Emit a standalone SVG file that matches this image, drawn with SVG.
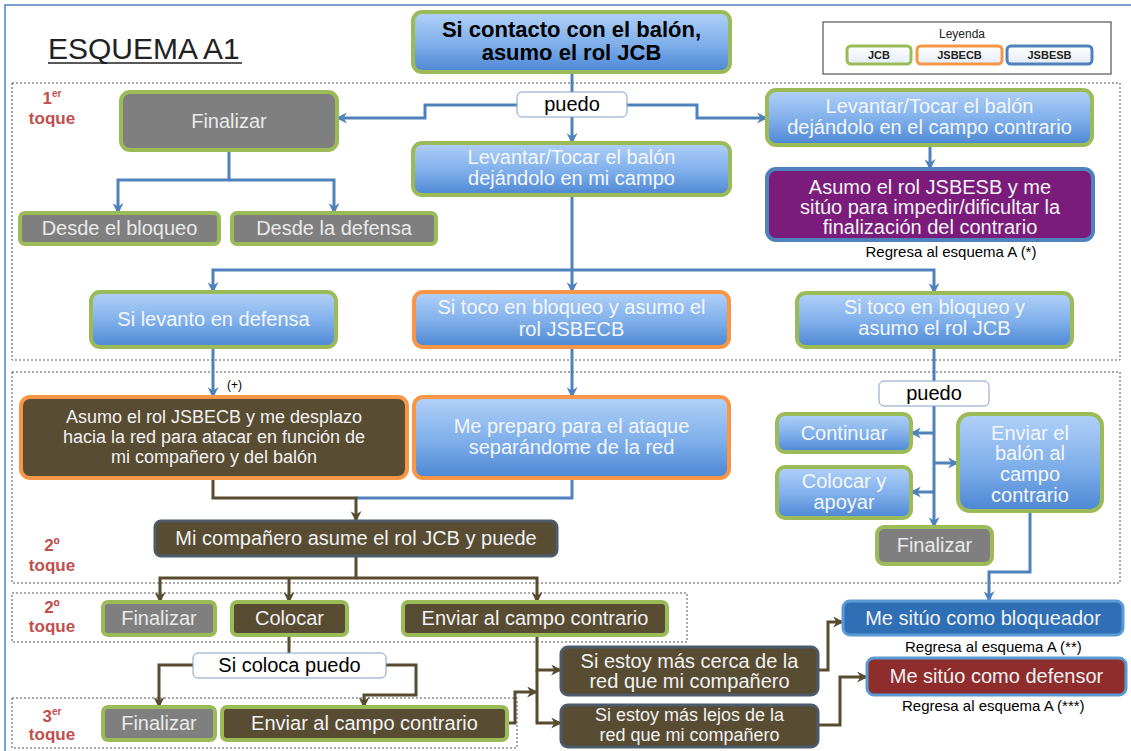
<svg xmlns="http://www.w3.org/2000/svg" width="1131" height="751" viewBox="0 0 1131 751">
<defs>
<linearGradient id="gBlue" x1="0" y1="0" x2="0" y2="1">
<stop offset="0" stop-color="#b2d1f8"/>
<stop offset="0.55" stop-color="#7eaeea"/>
<stop offset="1" stop-color="#4c86d3"/>
</linearGradient>
<linearGradient id="gLeg" x1="0" y1="0" x2="0" y2="1">
<stop offset="0" stop-color="#ffffff"/>
<stop offset="1" stop-color="#e4ecf6"/>
</linearGradient>
<marker id="aB" viewBox="0 0 10 10" refX="9" refY="5" markerWidth="11" markerHeight="11" markerUnits="userSpaceOnUse" orient="auto">
<path d="M0,0 L10,5 L0,10 L3,5 z" fill="#4f81bd"/>
</marker>
<marker id="aM" viewBox="0 0 10 10" refX="9" refY="5" markerWidth="11" markerHeight="11" markerUnits="userSpaceOnUse" orient="auto">
<path d="M0,0 L10,5 L0,10 L3,5 z" fill="#584c30"/>
</marker>
</defs>
<style>
text{font-family:"Liberation Sans",Arial,sans-serif}
.sec{fill:none;stroke:#555;stroke-width:1;stroke-dasharray:2 2}
.blue{fill:url(#gBlue);stroke:#9bbb59;stroke-width:4}
.blueO{fill:url(#gBlue);stroke:#f79646;stroke-width:4}
.gray{fill:#7f7f7f;stroke:#9bbb59;stroke-width:4}
.brownG{fill:#584c32;stroke:#9bbb59;stroke-width:4}
.brownO{fill:#584c32;stroke:#f79646;stroke-width:4}
.brownS{fill:#584c32;stroke:#4b5b6b;stroke-width:3}
.pill{fill:#fff;stroke:#7f9fc8;stroke-width:1}
.nt{font-size:20px;fill:#f3f7fc;text-anchor:middle}
.gt{font-size:20px;fill:#e9e9e9;text-anchor:middle}
.wt{font-size:20px;fill:#f2f2f2;text-anchor:middle}
.sm{font-size:18px}
.bk{font-size:20px;fill:#000;text-anchor:middle}
.rg{font-size:15px;fill:#000}
.lab{font-size:17px;font-weight:bold;fill:#c0504d;text-anchor:middle}
.cb{fill:none;stroke:#4f81bd;stroke-width:3}
.cm{fill:none;stroke:#584c30;stroke-width:3}
.lg{font-size:11px;font-weight:bold;fill:#222;text-anchor:middle}
</style>
<rect x="5" y="5" width="1200" height="800" fill="#fff" stroke="#4f81bd" stroke-width="1.5"/>

<g id="sections">
<rect class="sec" x="12" y="83" width="1108" height="277"/>
<rect class="sec" x="12" y="372" width="1108" height="211"/>
<rect class="sec" x="12" y="593" width="675" height="49"/>
<rect class="sec" x="12" y="698" width="505" height="50"/>
</g>

<g id="title">
<text x="48" y="59" font-size="30" fill="#222">ESQUEMA A1</text>
<line x1="48" y1="63" x2="242" y2="63" stroke="#222" stroke-width="1.5"/>
</g>

<g id="labels">
<text class="lab" x="52" y="104">1<tspan font-size="10" dy="-7">er</tspan></text>
<text class="lab" x="52" y="124">toque</text>
<text class="lab" x="52" y="551">2º</text>
<text class="lab" x="52" y="571">toque</text>
<text class="lab" x="52" y="613">2º</text>
<text class="lab" x="52" y="632">toque</text>
<text class="lab" x="52" y="722">3<tspan font-size="10" dy="-7">er</tspan></text>
<text class="lab" x="52" y="740">toque</text>
</g>

<g id="legend">
<rect x="823" y="22" width="288" height="52" fill="#fff" stroke="#333" stroke-width="1"/>
<text x="962" y="38" font-size="12" fill="#222" text-anchor="middle">Leyenda</text>
<rect x="847" y="46" width="64" height="18" rx="4" fill="url(#gLeg)" stroke="#9bbb59" stroke-width="3"/>
<text class="lg" x="879" y="59">JCB</text>
<rect x="917" y="46" width="85" height="18" rx="4" fill="url(#gLeg)" stroke="#f79646" stroke-width="3"/>
<text class="lg" x="959.5" y="59">JSBECB</text>
<rect x="1007" y="46" width="85" height="18" rx="4" fill="url(#gLeg)" stroke="#4f81bd" stroke-width="3"/>
<text class="lg" x="1049.5" y="59">JSBESB</text>
</g>

<g id="connectors">
<path class="cb" d="M572,72 V92"/>
<path class="cb" d="M572,117 V143" marker-end="url(#aB)"/>
<path class="cb" d="M517,105 H425 V118 H337" marker-end="url(#aB)"/>
<path class="cb" d="M627,105 H697 V118 H767" marker-end="url(#aB)"/>
<path class="cb" d="M229,150 V180 H118 V213" marker-end="url(#aB)"/>
<path class="cb" d="M229,180 H334 V213" marker-end="url(#aB)"/>
<path class="cb" d="M930,145 V169" marker-end="url(#aB)"/>
<path class="cb" d="M572,195 V292" marker-end="url(#aB)"/>
<path class="cb" d="M572,270 H213 V292" marker-end="url(#aB)"/>
<path class="cb" d="M572,270 H934 V293" marker-end="url(#aB)"/>
<path class="cb" d="M213,347 V397" marker-end="url(#aB)"/>
<path class="cb" d="M572,347 V397" marker-end="url(#aB)"/>
<path class="cb" d="M572,478 V498 H356"/>
<path class="cm" d="M213,478 V498 H356 V521" marker-end="url(#aM)"/>
<path class="cb" d="M934,347 V381"/>
<path class="cb" d="M934,406 V527" marker-end="url(#aB)"/>
<path class="cb" d="M934,433 H911" marker-end="url(#aB)"/>
<path class="cb" d="M934,463 H958" marker-end="url(#aB)"/>
<path class="cb" d="M934,492 H911" marker-end="url(#aB)"/>
<path class="cb" d="M1030,511 V572 H989 V601" marker-end="url(#aB)"/>
<path class="cm" d="M356,556 V578 H160 V602" marker-end="url(#aM)"/>
<path class="cm" d="M356,578 H537 V602" marker-end="url(#aM)"/>
<path class="cm" d="M289,578 V602" marker-end="url(#aM)"/>
<path class="cm" d="M289,635 V653"/>
<path class="cm" d="M193,665 H159 V707" marker-end="url(#aM)"/>
<path class="cm" d="M386,665 H416 V695 H364 V707" marker-end="url(#aM)"/>
<path class="cm" d="M537,635 V670 H561" marker-end="url(#aM)"/>
<path class="cm" d="M537,670 V723 H561" marker-end="url(#aM)"/>
<path class="cm" d="M507,723 H515 V692 H537" marker-end="url(#aM)"/>
<path class="cm" d="M818,670 H828 V622 H843" marker-end="url(#aM)"/>
<path class="cm" d="M818,725 H840 V677 H867" marker-end="url(#aM)"/>
</g>

<g id="n-top">
<rect class="blue" x="413" y="12" width="317" height="60" rx="9"/>
<text x="571.5" y="37" font-size="22" font-weight="bold" fill="#000" text-anchor="middle">Si contacto con el balón,</text>
<text x="571.5" y="60" font-size="22" font-weight="bold" fill="#000" text-anchor="middle">asumo el rol JCB</text>
</g>

<g id="n-puedo1">
<rect class="pill" x="517" y="92" width="110" height="25" rx="5"/>
<text class="bk" x="572" y="111">puedo</text>
</g>

<g id="n-fin1">
<rect class="gray" x="121" y="92" width="216" height="58" rx="9"/>
<text class="gt" x="229" y="128">Finalizar</text>
</g>

<g id="n-levcontrario">
<rect class="blue" x="767" y="90" width="325" height="55" rx="9"/>
<text class="nt" x="929.5" y="113">Levantar/Tocar el balón</text>
<text class="nt" x="929.5" y="134">dejándolo en el campo contrario</text>
</g>

<g id="n-levmi">
<rect class="blue" x="413" y="143" width="317" height="52" rx="9"/>
<text class="nt" x="571.5" y="164">Levantar/Tocar el balón</text>
<text class="nt" x="571.5" y="185">dejándolo en mi campo</text>
</g>

<g id="n-jsbesb">
<rect x="767" y="169" width="326" height="71" rx="9" fill="#7b1c7c" stroke="#4f81bd" stroke-width="4"/>
<text class="wt" x="930" y="194">Asumo el rol JSBESB y me</text>
<text class="wt" x="930" y="214">sitúo para impedir/dificultar la</text>
<text class="wt" x="930" y="234">finalización del contrario</text>
</g>
<text class="rg" x="951" y="257" text-anchor="middle">Regresa al esquema A (*)</text>

<g id="n-desdebloq">
<rect class="gray" x="20" y="213" width="199" height="31" rx="5"/>
<text class="gt" x="119.5" y="235">Desde el bloqueo</text>
</g>

<g id="n-desdedef">
<rect class="gray" x="232" y="213" width="204" height="31" rx="5"/>
<text class="gt" x="334" y="235">Desde la defensa</text>
</g>

<g id="n-silevanto">
<rect class="blue" x="91" y="292" width="245" height="55" rx="9"/>
<text class="nt" x="213.5" y="326">Si levanto en defensa</text>
</g>

<g id="n-sitocojsbecb">
<rect class="blueO" x="414" y="292" width="315" height="55" rx="9"/>
<text class="nt" x="571.5" y="314">Si toco en bloqueo y asumo el</text>
<text class="nt" x="571.5" y="336">rol JSBECB</text>
</g>

<g id="n-sitocojcb">
<rect class="blue" x="797" y="293" width="275" height="54" rx="9"/>
<text class="nt" x="934.5" y="314">Si toco en bloqueo y</text>
<text class="nt" x="934.5" y="335">asumo el rol JCB</text>
</g>

<text x="227" y="389" font-size="12" fill="#000">(+)</text>

<g id="n-asumojsbecb">
<rect class="brownO" x="21" y="397" width="386" height="81" rx="9"/>
<text class="wt sm" x="214" y="423">Asumo el rol JSBECB y me desplazo</text>
<text class="wt sm" x="214" y="443">hacia la red para atacar en función de</text>
<text class="wt sm" x="214" y="463">mi compañero y del balón</text>
</g>

<g id="n-mepreparo">
<rect class="blueO" x="414" y="397" width="315" height="81" rx="9"/>
<text class="nt" x="571.5" y="433">Me preparo para el ataque</text>
<text class="nt" x="571.5" y="454">separándome de la red</text>
</g>

<g id="n-micomp">
<rect class="brownS" x="155" y="521" width="402" height="35" rx="6"/>
<text class="wt" x="356" y="545">Mi compañero asume el rol JCB y puede</text>
</g>

<g id="n-puedo2">
<rect class="pill" x="879" y="381" width="110" height="25" rx="5"/>
<text class="bk" x="934" y="400">puedo</text>
</g>

<g id="n-continuar">
<rect class="blue" x="777" y="414" width="134" height="38" rx="8"/>
<text class="nt" x="844" y="440">Continuar</text>
</g>

<g id="n-colocarapoyar">
<rect class="blue" x="777" y="467" width="134" height="51" rx="8"/>
<text class="nt" x="844" y="488">Colocar y</text>
<text class="nt" x="844" y="509">apoyar</text>
</g>

<g id="n-enviarbalon">
<rect class="blue" x="958" y="414" width="144" height="97" rx="12"/>
<text class="nt" x="1030" y="440">Enviar el</text>
<text class="nt" x="1030" y="460">balón al</text>
<text class="nt" x="1030" y="481">campo</text>
<text class="nt" x="1030" y="502">contrario</text>
</g>

<g id="n-fin2">
<rect class="gray" x="877" y="527" width="115" height="37" rx="7"/>
<text class="gt" x="934.5" y="552">Finalizar</text>
</g>

<g id="n-fin2o">
<rect class="gray" x="103" y="602" width="112" height="33" rx="5"/>
<text class="gt" x="159" y="625">Finalizar</text>
</g>

<g id="n-colocar">
<rect class="brownG" x="232" y="602" width="115" height="33" rx="5"/>
<text class="wt" x="289.5" y="625">Colocar</text>
</g>

<g id="n-enviar2o">
<rect class="brownG" x="403" y="602" width="264" height="33" rx="5"/>
<text class="wt" x="535" y="625">Enviar al campo contrario</text>
</g>

<g id="n-sicoloca">
<rect class="pill" x="193" y="653" width="193" height="25" rx="5"/>
<text class="bk" x="289.5" y="672">Si coloca puedo</text>
</g>

<g id="n-fin3">
<rect class="gray" x="103" y="707" width="112" height="33" rx="5"/>
<text class="gt" x="159" y="730">Finalizar</text>
</g>

<g id="n-enviar3">
<rect class="brownG" x="222" y="707" width="285" height="33" rx="5"/>
<text class="wt" x="364.5" y="730">Enviar al campo contrario</text>
</g>

<g id="n-cerca">
<rect class="brownS" x="561" y="647" width="257" height="48" rx="7"/>
<text class="wt" x="689.5" y="668">Si estoy más cerca de la</text>
<text class="wt" x="689.5" y="688">red que mi compañero</text>
</g>

<g id="n-lejos">
<rect class="brownS" x="561" y="705" width="257" height="42" rx="7"/>
<text class="wt sm" x="689.5" y="721">Si estoy más lejos de la</text>
<text class="wt sm" x="689.5" y="741">red que mi compañero</text>
</g>

<g id="n-bloqueador">
<rect x="843" y="601" width="280" height="34" rx="7" fill="#2f6fb6" stroke="#5b9bd5" stroke-width="3"/>
<text class="wt" x="983" y="625">Me sitúo como bloqueador</text>
</g>
<text class="rg" x="905" y="652">Regresa al esquema A (**)</text>

<g id="n-defensor">
<rect x="867" y="658" width="259" height="37" rx="7" fill="#8f2c2c" stroke="#5b9bd5" stroke-width="3"/>
<text class="wt" x="996.5" y="683">Me sitúo como defensor</text>
</g>
<text class="rg" x="902" y="711">Regresa al esquema A (***)</text>
</svg>
